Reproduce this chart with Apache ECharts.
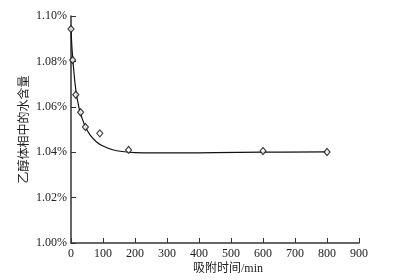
<!DOCTYPE html>
<html><head><meta charset="utf-8">
<script src="https://cdn.jsdelivr.net/npm/echarts@6/dist/echarts.min.js"></script>
<style>html,body{margin:0;padding:0;background:#fff}#c{width:394px;height:280px}</style>
</head><body><div id="c"></div>
<script>
var times = [0, 5, 15, 30, 45, 90, 180, 600, 800];
var water = [1.0943, 1.0806, 1.0653, 1.0576, 1.0511, 1.0483, 1.0410, 1.0405, 1.0401];
var fitTimes = [0, 3, 8, 15, 25, 35, 45, 60, 80, 100, 130, 160, 200, 260, 350, 450, 600, 800];
var fitWater = [1.0945, 1.086, 1.077, 1.0675, 1.0595, 1.0548, 1.0512, 1.0475, 1.0445, 1.0427, 1.0411, 1.0403, 1.0398, 1.0397, 1.0397, 1.0398, 1.0400, 1.0401];
var xTicks = [0, 100, 200, 300, 400, 500, 600, 700, 800, 900];
var yTicks = ['1.00%', '1.02%', '1.04%', '1.06%', '1.08%', '1.10%'];
var xName = '吸附时间/min';
var yName = '乙醇体相中的水含量';

var chart = echarts.init(document.getElementById('c'));
var font = '"Liberation Serif", "DejaVu Serif", serif';
var cjk = '"Liberation Serif", "Noto Sans CJK SC", serif';
chart.setOption({
  animation: false,
  backgroundColor: '#fff',
  grid: {left: 71, right: 35, top: 16, bottom: 37},
  xAxis: {
    type: 'value', min: 0, max: 900, interval: 100,
    name: xName, nameLocation: 'middle', nameGap: 20, nameMoveOverlap: false,
    nameTextStyle: {fontFamily: cjk, fontSize: 12, color: '#222', padding: [0, 0, 0, 26]},
    axisLine: {lineStyle: {color: '#333', width: 1.5}},
    axisTick: {inside: true, length: 5, lineStyle: {color: '#333'}},
    axisLabel: {fontFamily: font, fontSize: 12, color: '#222', margin: 5,
      formatter: function (v) { return xTicks.indexOf(v) >= 0 ? String(v) : ''; }},
    splitLine: {show: false}
  },
  yAxis: {
    type: 'value', min: 1.00, max: 1.10, interval: 0.02,
    name: yName, nameLocation: 'middle', nameGap: 40, nameRotate: 90, nameMoveOverlap: false,
    nameTextStyle: {fontFamily: cjk, fontSize: 12, color: '#222'},
    axisLine: {show: true, lineStyle: {color: '#333', width: 1.5}},
    axisTick: {show: true, inside: true, length: 5, lineStyle: {color: '#333'}},
    axisLabel: {fontFamily: font, fontSize: 12, color: '#222', margin: 4,
      formatter: function (v) { return yTicks[Math.round((v - 1.0) / 0.02)]; }},
    splitLine: {show: false}
  },
  series: [
    {
      type: 'line', smooth: 0.4, symbol: 'none',
      data: fitTimes.map(function (t, i) { return [t, fitWater[i]]; }),
      lineStyle: {color: '#111', width: 1.2}, z: 2
    },
    {
      type: 'scatter', symbol: 'diamond', symbolSize: [6, 7],
      data: times.map(function (t, i) { return [t, water[i]]; }),
      itemStyle: {color: '#fff', borderColor: '#111', borderWidth: 1.2}, z: 3
    }
  ]
});
</script></body></html>
